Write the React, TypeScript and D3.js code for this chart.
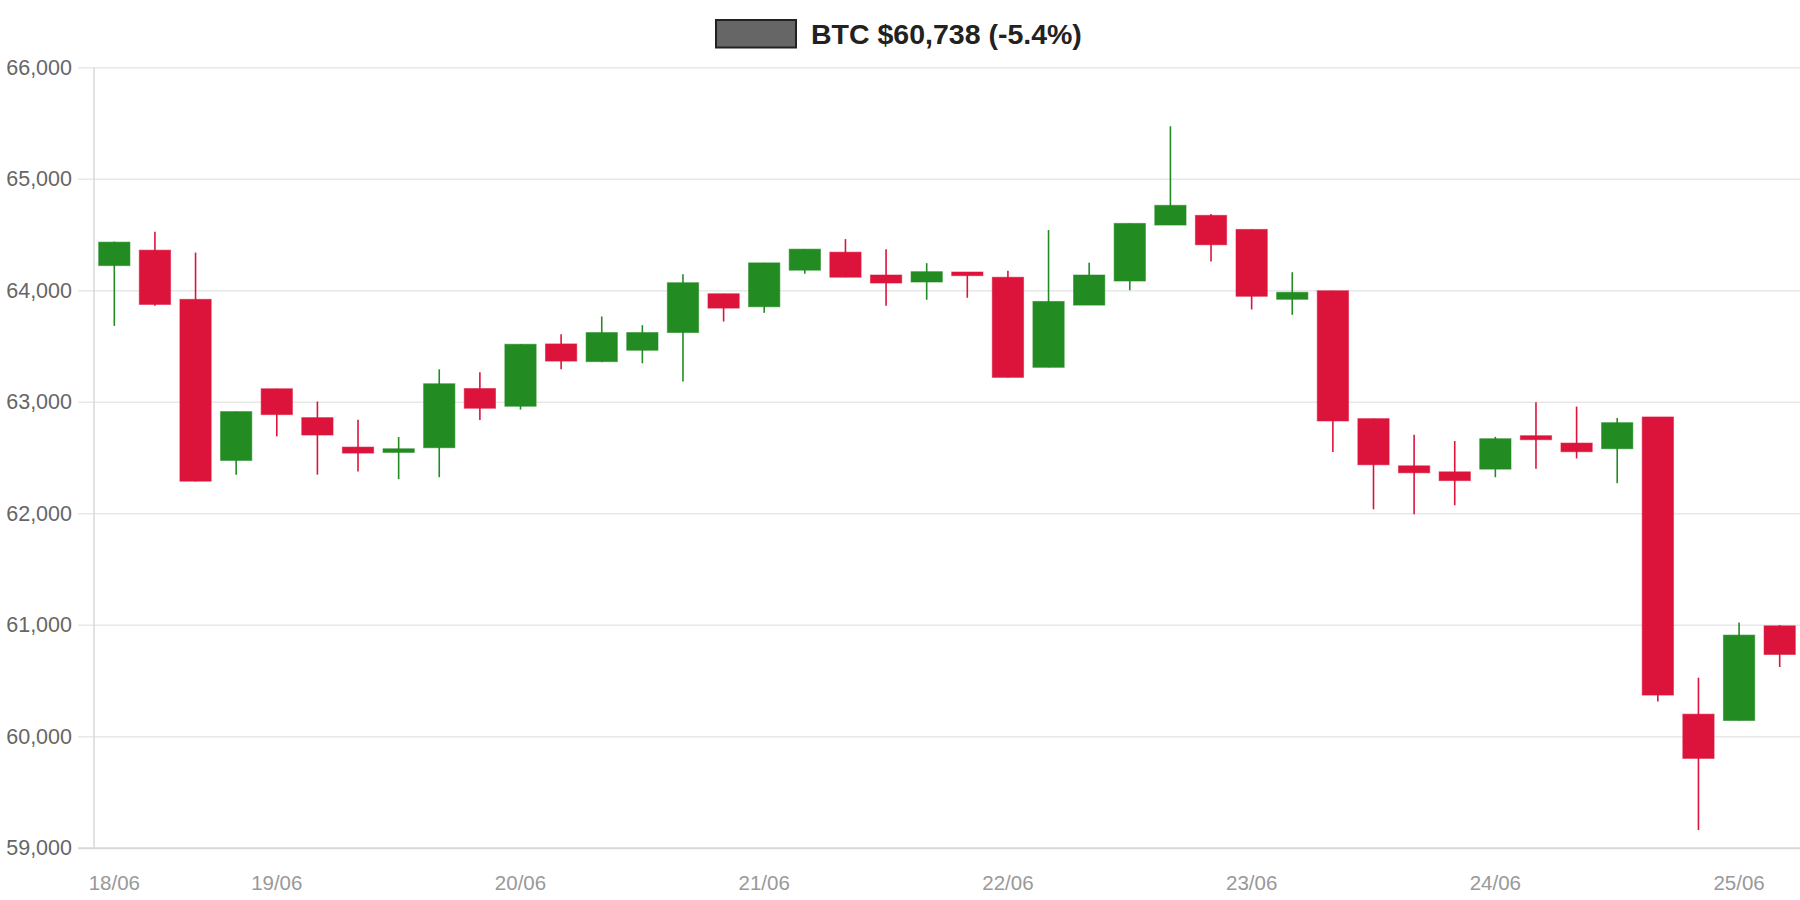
import * as d3 from "d3";

// 4h candles, first one 18/06 08:00
const START = new Date(2024, 5, 18, 8);
const opens = [
  64225, 64364, 63923, 62478, 63121, 62862, 62598, 62550, 62592, 63123,
  62964, 63523, 63364, 63466, 63625, 63973, 63856, 64184, 64346, 64141,
  64078, 64168, 64121, 63313, 63871, 64087, 64589, 64676, 64550, 63923,
  64000, 62853, 62430, 62376, 62400, 62700, 62634, 62583, 62868, 60203,
  60146, 60995,
];
const highs = [
  64440, 64529, 64342, 62916, 63121, 63006, 62844, 62688, 63295, 63270,
  63520, 63610, 63769, 63691, 64148, 63973, 64250, 64375, 64463, 64373,
  64247, 64168, 64180, 64544, 64250, 64604, 65475, 64688, 64550, 64166,
  64000, 62853, 62709, 62652, 62690, 63000, 62961, 62859, 62868, 60530,
  61025, 61002,
];
const lows = [
  63685, 63865, 62290, 62349, 62694, 62351, 62378, 62310, 62328, 62841,
  62934, 63295, 63360, 63349, 63186, 63724, 63802, 64153, 64121, 63865,
  63919, 63937, 63223, 63313, 63871, 64004, 64589, 64261, 63832, 63784,
  62553, 62040, 61995, 62076, 62328, 62403, 62496, 62274, 60317, 59164,
  60146, 60626,
];
const closes = [
  64436, 63877, 62292, 62916, 62889, 62706, 62544, 62583, 63166, 62946,
  63520, 63369, 63625, 63625, 64072, 63844, 64250, 64373, 64121, 64069,
  64171, 64135, 63223, 63904, 64141, 64604, 64766, 64412, 63950, 63986,
  62832, 62439, 62367, 62297, 62673, 62664, 62556, 62817, 60374, 59806,
  60912, 60738,
];
const yTicks = [59000, 60000, 61000, 62000, 63000, 64000, 65000, 66000];
const LEGEND = "BTC $60,738 (-5.4%)";

const W = 1800;
const H = 900;
const MARGIN = { top: 67.7, right: 0, bottom: 51.7, left: 94 };

const COLOR_UP = "#228b22";
const COLOR_DOWN = "#dc143c";
const COLOR_GRID = "#e8e8e8";
const COLOR_AXIS = "#d9d9d9";
const FONT = "'Liberation Sans', Arial, sans-serif";

const times = opens.map((_, i) => d3.timeHour.offset(START, i * 4));
const fmtDay = d3.timeFormat("%d/%m");

export default function App() {
  const x = d3
    .scaleBand<Date>()
    .domain(times)
    .range([MARGIN.left, W - MARGIN.right]);
  const y = d3
    .scaleLinear()
    .domain([59000, 66000])
    .range([H - MARGIN.bottom, MARGIN.top]);

  const bodyW = x.bandwidth() * 0.77;
  // first candle + every midnight
  const labelTimes = times.filter((t, i) => i === 0 || t.getHours() === 0);

  return (
    <div style={{ position: "fixed", left: 0, top: 0, width: W, height: H, background: "#fff" }}>
      <svg width={W} height={H} style={{ display: "block" }}>
        {/* gridlines + y tick labels */}
        {yTicks.map((t) => (
          <g key={t}>
            <line
              x1={MARGIN.left - 16}
              x2={W}
              y1={y(t)}
              y2={y(t)}
              stroke={t === 59000 ? COLOR_AXIS : COLOR_GRID}
              strokeWidth={t === 59000 ? 2 : 1.5}
            />
            <text
              x={72}
              y={y(t)}
              textAnchor="end"
              dominantBaseline="central"
              fontSize={21.5}
              fill="#666"
              fontFamily={FONT}
            >
              {d3.format(",")(t)}
            </text>
          </g>
        ))}
        <line
          x1={MARGIN.left}
          x2={MARGIN.left}
          y1={y(66000)}
          y2={y(59000)}
          stroke={COLOR_AXIS}
          strokeWidth={1.5}
        />

        {/* x labels */}
        {labelTimes.map((t) => (
          <text
            key={+t}
            x={(x(t) ?? 0) + x.bandwidth() / 2}
            y={882}
            textAnchor="middle"
            dominantBaseline="central"
            fontSize={20.5}
            fill="#999"
            fontFamily={FONT}
          >
            {fmtDay(t)}
          </text>
        ))}

        {/* candles */}
        {times.map((t, i) => {
          const up = closes[i] >= opens[i];
          const c = up ? COLOR_UP : COLOR_DOWN;
          const cx = (x(t) ?? 0) + x.bandwidth() / 2;
          const yTop = y(Math.max(opens[i], closes[i]));
          const yBot = y(Math.min(opens[i], closes[i]));
          return (
            <g key={i}>
              <line
                x1={cx}
                x2={cx}
                y1={y(highs[i])}
                y2={y(lows[i])}
                stroke={c}
                strokeWidth={1.6}
              />
              <rect
                x={cx - bodyW / 2}
                y={yTop}
                width={bodyW}
                height={Math.max(1, yBot - yTop)}
                fill={c}
                stroke={c}
                strokeOpacity={0.55}
                strokeWidth={1}
              />
            </g>
          );
        })}

        {/* legend */}
        <rect x={716} y={20} width={80} height={27.5} fill="#666" stroke="#222" strokeWidth={2} />
        <text
          x={811}
          y={33.5}
          dominantBaseline="central"
          fontSize={28.5}
          fontWeight="bold"
          fill="#222"
          fontFamily={FONT}
        >
          {LEGEND}
        </text>
      </svg>
    </div>
  );
}
